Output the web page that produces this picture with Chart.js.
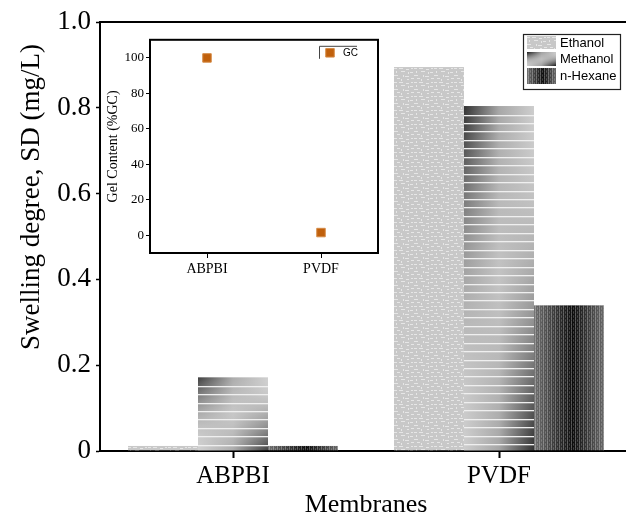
<!DOCTYPE html>
<html>
<head>
<meta charset="utf-8">
<script src="https://cdn.jsdelivr.net/npm/chart.js@4.4.1/dist/chart.umd.min.js"></script>
<style>
  html, body { margin: 0; padding: 0; background: #fff; overflow: hidden; width: 626px; height: 518px; }
  #wrap { position: relative; width: 640px; height: 518px; }
  #main { position: absolute; left: 0; top: 0; }
  #inset { position: absolute; left: 102px; top: 30px; }
</style>
</head>
<body>
<div id="wrap">
  <canvas id="main" width="640" height="518"></canvas>
  <canvas id="inset" width="288" height="250"></canvas>
</div>
<script>
// ---------------- data ----------------
const categories = ['ABPBI', 'PVDF'];
const seriesNames = ['Ethanol', 'Methanol', 'n-Hexane'];
const ethanol  = [0.012, 0.895];
const methanol = [0.172, 0.804];
const hexane   = [0.012, 0.340];
const yTicks = [0, 0.2, 0.4, 0.6, 0.8, 1.0];
const yTitle = 'Swelling degree, SD (mg/L)';
const xTitle = 'Membranes';

const gcCategories = ['ABPBI', 'PVDF'];
const gelContent = [99.8, 1.5];
const gcTicks = [0, 20, 40, 60, 80, 100];
const gcLegend = 'GC';
const gcTitle = 'Gel Content (%GC)';

// ---------------- textures ----------------
const SERIF = "'Liberation Serif', 'Times New Roman', serif";
const SANS = "'Liberation Sans', Arial, sans-serif";

const ethTile = (() => {
  const c = document.createElement('canvas'); c.width = 20; c.height = 14;
  const g = c.getContext('2d');
  g.fillStyle = 'rgba(240,240,240,0.75)';
  [[0,1,3,1],[5,1,4,1],[12,2,3,1],[17,1,2,1],[2,4,1,2],[7,4,4,1],[14,5,1,2],[16,5,3,1],
   [0,8,4,1],[9,8,1,2],[11,9,4,1],[3,11,3,1],[17,11,3,1],[7,12,1,2],[13,12,2,1]]
   .forEach(d => g.fillRect(d[0], d[1], d[2], d[3]));
  return c;
})();

const hexTile = (() => {
  const c = document.createElement('canvas'); c.width = 8; c.height = 8;
  const g = c.getContext('2d');
  for (let i = 0; i < 8; i++) for (let j = 0; j < 8; j++) {
    let a = 0;
    if (i % 4 === 1 && j % 4 !== 3) a = 0.3;
    else if ((i + j) % 2 === 0 && j % 4 === 3) a = 0.22;
    else if (i % 4 === 3 && j % 2 === 0) a = 0.15;
    if (a) { g.fillStyle = `rgba(255,255,255,${a})`; g.fillRect(i, j, 1, 1); }
  }
  return c;
})();

function fillEthanol(ctx, x, y, w, h) {
  ctx.save();
  ctx.beginPath(); ctx.rect(x, y, w, h); ctx.clip();
  ctx.fillStyle = '#c8c8c8'; ctx.fillRect(x, y, w, h);
  const p = ctx.createPattern(ethTile, 'repeat');
  p.setTransform(new DOMMatrix().translate(Math.round(x), Math.round(y)));
  ctx.fillStyle = p; ctx.fillRect(x, y, w, h);
  ctx.restore();
}
function shade(d) { const v = Math.round(202 - 165 * d); return `rgb(${v},${v},${v})`; }
function fillMethanol(ctx, x, y, w, h, lines) {
  ctx.save();
  ctx.beginPath(); ctx.rect(x, y, w, h); ctx.clip();
  const n = Math.ceil(h);
  for (let k = 0; k < n; k++) {
    const f = n > 1 ? k / (n - 1) : 0;
    const dl = Math.pow(1 - f, 2), dr = Math.pow(f, 2);
    const g = ctx.createLinearGradient(x, 0, x + w, 0);
    g.addColorStop(0, shade(dl));
    g.addColorStop(0.5, shade(0.25 * Math.max(dl, dr)));
    g.addColorStop(1, shade(dr));
    ctx.fillStyle = g; ctx.fillRect(x, y + k, w, 1.2);
  }
  if (lines) {
    ctx.fillStyle = '#efefef';
    for (let k = 1; y + k * 8.45 < y + h - 1; k++) ctx.fillRect(x, Math.round(y + k * 8.45), w, 1.3);
  }
  ctx.restore();
}
function fillHexane(ctx, x, y, w, h) {
  ctx.save();
  ctx.beginPath(); ctx.rect(x, y, w, h); ctx.clip();
  const g = ctx.createLinearGradient(x, 0, x + w, 0);
  g.addColorStop(0, '#707070'); g.addColorStop(0.55, '#0c0c0c'); g.addColorStop(1, '#6a6a6a');
  ctx.fillStyle = g; ctx.fillRect(x, y, w, h);
  const p = ctx.createPattern(hexTile, 'repeat');
  p.setTransform(new DOMMatrix().translate(Math.round(x), Math.round(y)));
  ctx.fillStyle = p; ctx.fillRect(x, y, w, h);
  ctx.restore();
}
const fills = [
  (c, x, y, w, h) => fillEthanol(c, x, y, w, h),
  (c, x, y, w, h) => fillMethanol(c, x, y, w, h, true),
  (c, x, y, w, h) => fillHexane(c, x, y, w, h)
];
const legendFills = [
  (c, x, y, w, h) => fillEthanol(c, x, y, w, h),
  (c, x, y, w, h) => fillMethanol(c, x, y, w, h, false),
  (c, x, y, w, h) => fillHexane(c, x, y, w, h)
];

// ---------------- main chart ----------------
const barPainter = {
  id: 'barPainter',
  afterDatasetsDraw(chart) {
    const ctx = chart.ctx;
    chart.data.datasets.forEach((ds, di) => {
      const meta = chart.getDatasetMeta(di);
      if (meta.hidden) return;
      meta.data.forEach(el => {
        const p = el.getProps(['x', 'y', 'base', 'width'], true);
        const top = Math.min(p.y, p.base), h = Math.abs(p.base - p.y);
        fills[di](ctx, p.x - p.width / 2, top, p.width, h);
      });
    });
  },
  afterDraw(chart) {
    const ctx = chart.ctx, a = chart.chartArea;
    ctx.save();
    ctx.strokeStyle = '#000'; ctx.lineWidth = 2;
    ctx.beginPath(); ctx.moveTo(a.left - 1, a.top); ctx.lineTo(chart.width, a.top); ctx.stroke();
    // y-axis title (placed slightly above the axis centre, as in the original)
    ctx.save();
    ctx.translate(32, 197);
    ctx.rotate(-Math.PI / 2);
    ctx.font = '27px ' + SERIF; ctx.fillStyle = '#000';
    ctx.textAlign = 'center'; ctx.textBaseline = 'middle';
    ctx.fillText(yTitle, 0, 0);
    ctx.restore();
    // legend box
    const bx = 523, by = 34, bw = 97, bh = 55;
    ctx.fillStyle = '#fff'; ctx.fillRect(bx, by, bw, bh);
    ctx.lineWidth = 1.2; ctx.strokeStyle = '#222';
    ctx.strokeRect(bx + 0.5, by + 0.5, bw, bh);
    const rows = [[36, 13], [52, 14], [68, 16]];
    ctx.font = '13px ' + SANS; ctx.textBaseline = 'middle'; ctx.textAlign = 'left';
    seriesNames.forEach((name, i) => {
      const [ry, rh] = rows[i];
      legendFills[i](ctx, 527, ry, 29, rh);
      ctx.fillStyle = '#000';
      ctx.fillText(name, 560, ry + rh / 2 + 0.5);
    });
    ctx.restore();
  }
};

new Chart(document.getElementById('main'), {
  type: 'bar',
  data: {
    labels: categories,
    datasets: [
      { label: seriesNames[0], data: ethanol,  backgroundColor: 'rgba(0,0,0,0)' },
      { label: seriesNames[1], data: methanol, backgroundColor: 'rgba(0,0,0,0)' },
      { label: seriesNames[2], data: hexane,   backgroundColor: 'rgba(0,0,0,0)' }
    ]
  },
  options: {
    responsive: false,
    devicePixelRatio: 1,
    animation: false,
    events: [],
    layout: { padding: { left: 0, top: 22, right: 8, bottom: 0 } },
    datasets: { bar: { barPercentage: 1.0, categoryPercentage: 0.79 } },
    plugins: { legend: { display: false }, tooltip: { enabled: false } },
    scales: {
      x: {
        z: 1,
        offset: true,
        grid: { offset: false, drawOnChartArea: false, drawTicks: true, tickLength: 7, color: '#000', tickWidth: 2 },
        border: { display: true, color: '#000', width: 2 },
        ticks: { color: '#000', font: { family: SERIF, size: 25 }, padding: 3 },
        title: { display: true, text: xTitle, color: '#000', font: { family: SERIF, size: 26, lineHeight: 1.0 }, padding: { top: 0, bottom: 0 } },
        afterFit(s) { s.height = 67; }
      },
      y: {
        z: 1,
        min: 0, max: 1,
        afterBuildTicks(s) { s.ticks = yTicks.map(v => ({ value: v })); },
        grid: { drawOnChartArea: false, drawTicks: true, tickLength: 4, color: '#000', tickWidth: 1.5 },
        border: { display: true, color: '#000', width: 2 },
        ticks: {
          color: '#000', font: { family: SERIF, size: 27 }, padding: 5,
          callback: v => (Math.abs(v) < 1e-9 ? '0' : (Math.round(v * 10) / 10).toFixed(1))
        },
        title: { display: false },
        afterFit(s) { s.width = 100; }
      }
    }
  },
  plugins: [barPainter]
});

// ---------------- inset chart ----------------
const insetDeco = {
  id: 'insetDeco',
  afterDraw(chart) {
    const ctx = chart.ctx, a = chart.chartArea;
    ctx.save();
    ctx.strokeStyle = '#000'; ctx.lineWidth = 2;
    ctx.strokeRect(a.left, a.top, a.right - a.left, a.bottom - a.top);
    // mini legend
    const lx = a.right - 59, ly = a.top + 6;
    ctx.lineWidth = 1; ctx.strokeStyle = '#444';
    ctx.beginPath();
    ctx.moveTo(lx + 0.5, ly + 13); ctx.lineTo(lx + 0.5, ly + 0.5); ctx.lineTo(lx + 38, ly + 0.5);
    ctx.stroke();
    const ds = chart.data.datasets[0];
    ctx.fillStyle = ds.backgroundColor; ctx.strokeStyle = ds.borderColor;
    ctx.beginPath(); ctx.rect(lx + 11 - 4.25, ly + 7 - 4.25, 8.5, 8.5); ctx.fill(); ctx.stroke();
    ctx.fillStyle = '#000'; ctx.font = '10px ' + SANS; ctx.textBaseline = 'middle'; ctx.textAlign = 'left';
    ctx.fillText(gcLegend, lx + 24, ly + 7);
    ctx.restore();
  }
};

new Chart(document.getElementById('inset'), {
  type: 'line',
  data: {
    labels: gcCategories,
    datasets: [{
      label: gcLegend, data: gelContent, showLine: false,
      pointStyle: 'rect', pointRadius: 6, pointHoverRadius: 6,
      backgroundColor: '#c0600c', borderColor: '#d58a45', borderWidth: 1
    }]
  },
  options: {
    responsive: false,
    devicePixelRatio: 1,
    animation: false,
    events: [],
    layout: { padding: { left: 0, top: 9, right: 12, bottom: 0 } },
    plugins: { legend: { display: false }, tooltip: { enabled: false } },
    scales: {
      x: {
        offset: true,
        grid: { offset: false, drawOnChartArea: false, drawTicks: true, tickLength: 5, color: '#000', tickWidth: 1 },
        border: { display: true, color: '#000', width: 2 },
        ticks: { color: '#000', font: { family: SERIF, size: 14 }, padding: 3 },
        afterFit(s) { s.height = 27; }
      },
      y: {
        min: -10, max: 110,
        afterBuildTicks(s) { s.ticks = gcTicks.map(v => ({ value: v })); },
        grid: { drawOnChartArea: false, drawTicks: true, tickLength: 4, color: '#000', tickWidth: 1 },
        border: { display: true, color: '#000', width: 2 },
        ticks: { color: '#000', font: { family: SERIF, size: 13 }, padding: 2 },
        title: { display: true, text: gcTitle, color: '#000', font: { family: SERIF, size: 14 }, padding: { top: 3, bottom: 0 } },
        afterFit(s) { s.width = 48; }
      }
    }
  },
  plugins: [insetDeco]
});
</script>
</body>
</html>
